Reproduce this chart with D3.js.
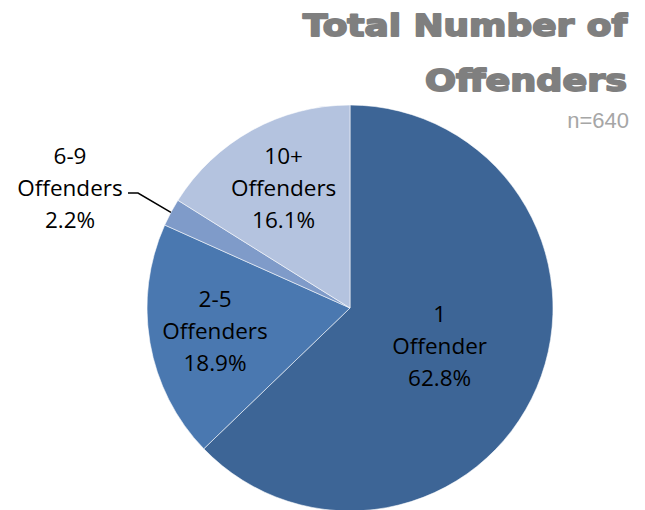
<!DOCTYPE html>
<html><head><meta charset="utf-8">
<script src="https://cdn.jsdelivr.net/npm/d3@7"></script>
<style>html,body{margin:0;padding:0;background:#fff;}svg{display:block;}</style>
</head><body>
<svg id="chart" width="645" height="510"></svg>
<script>
const categories = ["1\nOffender", "2-5\nOffenders", "6-9\nOffenders", "10+\nOffenders"];
const shares = [62.8, 18.9, 2.2, 16.1];
const colors = ["#3d6596", "#4a78b0", "#7f9bc9", "#b4c3df"];
const titleLines = ["Total Number of", "Offenders"];
const subtitle = "n=640";

const W = 645, H = 510;
const svg = d3.select("#chart");
const cx = 350, cy = 308, R = 203;
const g = svg.append("g").attr("transform", `translate(${cx},${cy})`);

const data = categories.map((c, i) => ({label: c, value: shares[i], color: colors[i]}));
const pie = d3.pie().value(d => d.value).sort(null);
const arcs = pie(data);
const arc = d3.arc().innerRadius(0).outerRadius(R);

g.selectAll("path.slice").data(arcs).enter().append("path")
  .attr("class", "slice")
  .attr("d", arc)
  .attr("fill", d => d.data.color)
  .attr("stroke", "#ffffff").attr("stroke-width", 0.8).attr("stroke-opacity", 0.7);

const labelFont = "'Open Sans', sans-serif";
const lineH = 32;
arcs.forEach(a => {
  const lines = a.data.label.split("\n").concat([a.data.value.toFixed(1) + "%"]);
  const mid = (a.startAngle + a.endAngle) / 2;
  let x, y, outside = (a.endAngle - a.startAngle) < 0.2;
  if (outside) {
    const edge = d3.arc().innerRadius(R).outerRadius(R).centroid(a);
    x = -280; y = -120;
    g.append("polyline")
      .attr("points", [[edge[0], edge[1]], [-212, -115], [-222, -115]].map(p => p.join(",")).join(" "))
      .attr("fill", "none").attr("stroke", "#000").attr("stroke-width", 1.5);
  } else {
    const rf = (a.endAngle - a.startAngle) > Math.PI ? 0.48 : 0.675;
    x = Math.sin(mid) * R * rf; y = -Math.cos(mid) * R * rf;
  }
  const t = g.append("text").attr("text-anchor", "middle")
    .attr("font-family", labelFont).attr("font-size", 22.5).attr("fill", "#000");
  lines.forEach((ln, i) => {
    t.append("tspan").attr("x", x).attr("y", y + (i - (lines.length - 1) / 2) * lineH)
      .attr("dy", "0.35em").text(ln);
  });
});

const titleX = 627;
const titleWidths = [324, 202];
const tt = svg.append("g");
titleLines.forEach((ln, i) => {
  tt.append("text").attr("x", titleX).attr("y", 36 + i * 55)
    .attr("text-anchor", "end")
    .attr("font-family", "'DejaVu Sans', sans-serif")
    .attr("font-weight", "bold").attr("font-size", 30).attr("fill", "#7f7f7f")
    .attr("stroke", "#7f7f7f").attr("stroke-width", 1.8).attr("stroke-linejoin", "round")
    .attr("textLength", titleWidths[i]).attr("lengthAdjust", "spacingAndGlyphs")
    .text(ln);
});
svg.append("text").attr("x", 629).attr("y", 128).attr("text-anchor", "end")
  .attr("font-family", "'Liberation Sans', Arial, sans-serif").attr("font-size", 22)
  .attr("fill", "#a6a6a6").text(subtitle);
</script>
</body></html>
